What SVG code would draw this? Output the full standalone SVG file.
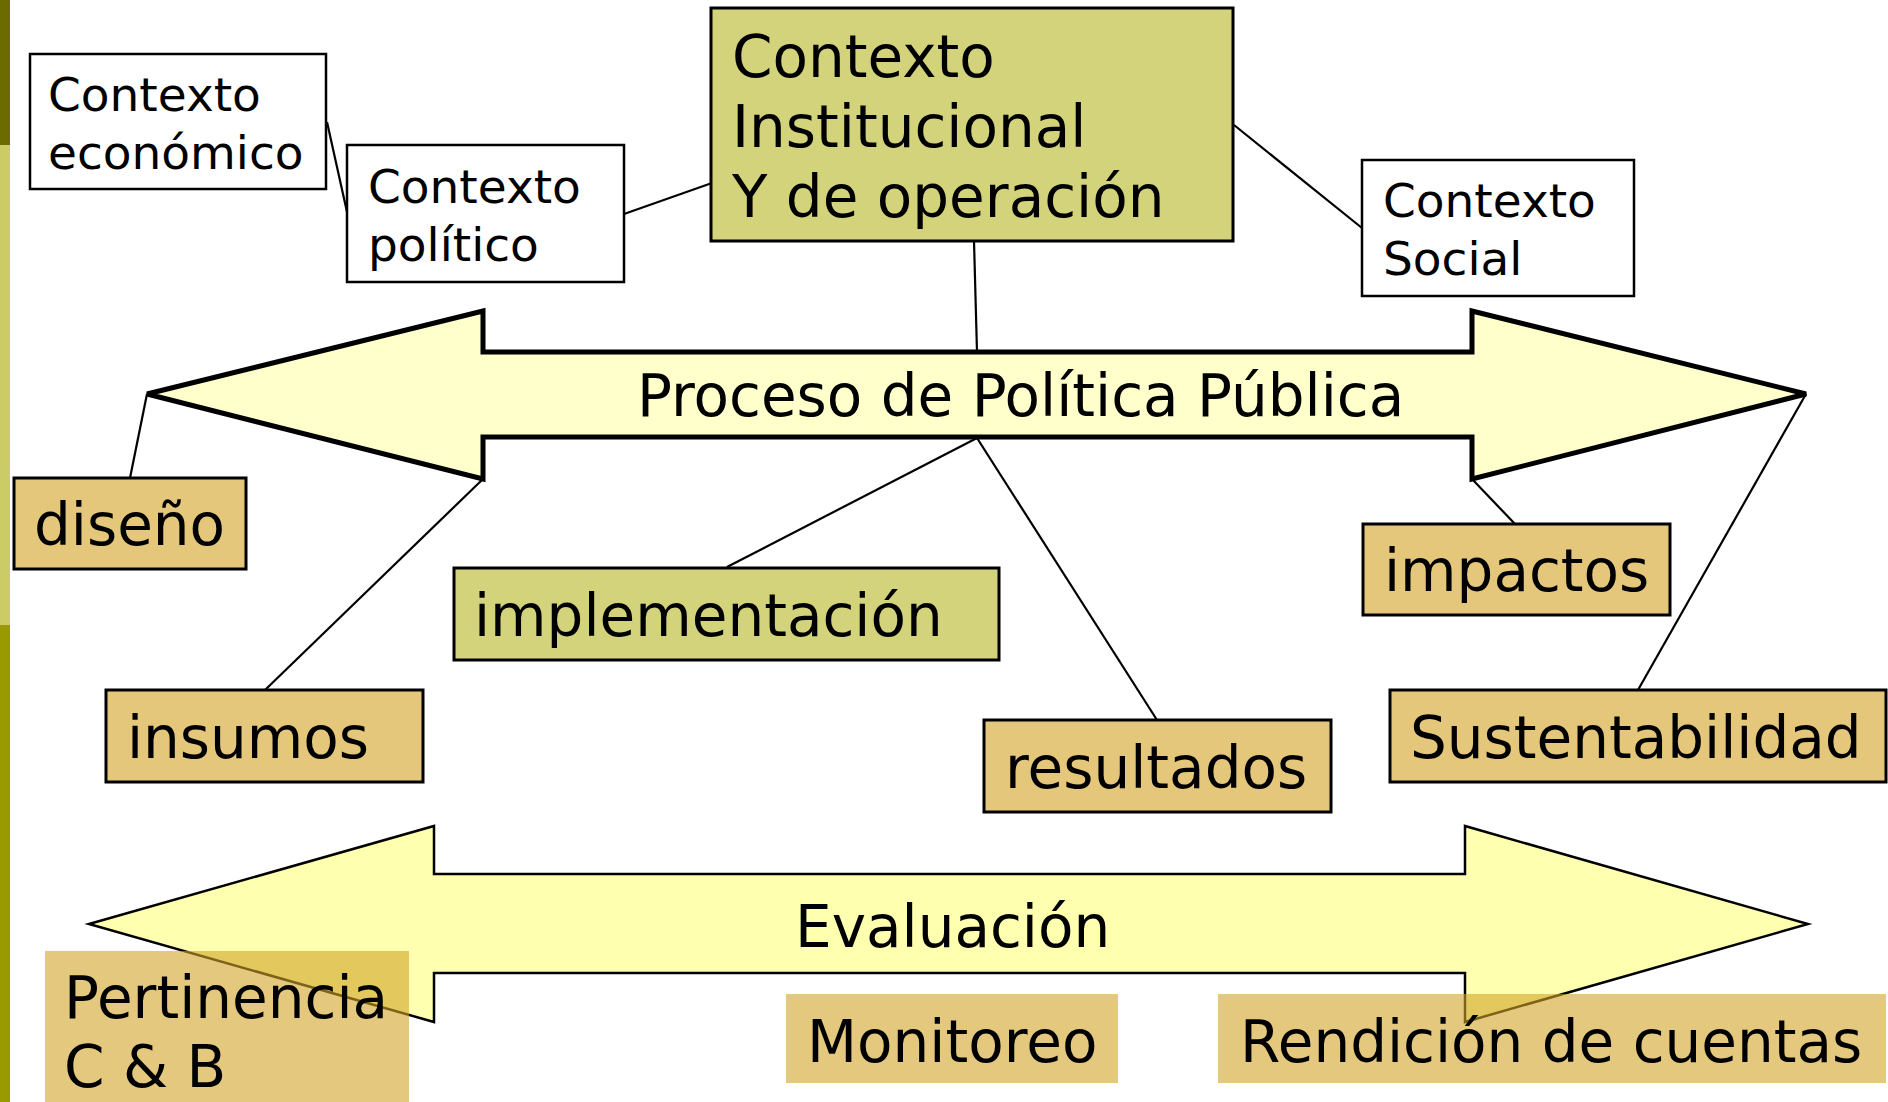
<svg xmlns="http://www.w3.org/2000/svg" width="1888" height="1102" viewBox="0 0 1888 1102">
<style>
text{font-family:"DejaVu Sans","Liberation Sans",sans-serif;fill:#000}
.s{font-size:47px}
.l{font-size:58px}
.ctx{fill:#fff;stroke:#000;stroke-width:2.5}
.olive{fill:#d3d37b;stroke:#000;stroke-width:3}
.tan{fill:#e5c77b;stroke:#000;stroke-width:3}
.soft{fill:#d0a428;fill-opacity:0.6}
.con line{stroke:#000;stroke-width:2.2}
</style>
<rect width="1888" height="1102" fill="#fff"/>
<g id="sidebar">
<rect x="0" y="0" width="10" height="145" fill="#6b6b00"/>
<rect x="0" y="145" width="10" height="480" fill="#cccc66"/>
<rect x="0" y="625" width="10" height="477" fill="#999900"/>
</g>
<g id="connectors" class="con">
<line x1="327" y1="122" x2="347" y2="212"/>
<line x1="624" y1="214" x2="712" y2="183"/>
<line x1="1234" y1="125" x2="1362" y2="228"/>
<line x1="974" y1="241" x2="977" y2="352"/>
<line x1="147" y1="394" x2="130" y2="478"/>
<line x1="483" y1="479" x2="265" y2="690"/>
<line x1="977" y1="438" x2="727" y2="567"/>
<line x1="977" y1="438" x2="1157" y2="720"/>
<line x1="1472" y1="479" x2="1515" y2="524"/>
<line x1="1806" y1="394" x2="1638" y2="690"/>
</g>
<g id="proceso">
<polygon points="147,394 483,311 483,352 1472,352 1472,311 1806,394 1472,479 1472,437 483,437 483,479" fill="#ffffcc" stroke="#000" stroke-width="5" stroke-linejoin="miter"/>
<text class="l" x="637" y="416">Proceso de Política Pública</text>
</g>
<g id="ctx-economico">
<rect class="ctx" x="30" y="54" width="296" height="135"/>
<text class="s" x="48" y="111">Contexto</text>
<text class="s" x="48" y="169">económico</text>
</g>
<g id="ctx-politico">
<rect class="ctx" x="347" y="145" width="277" height="137"/>
<text class="s" x="368" y="203">Contexto</text>
<text class="s" x="368" y="261">político</text>
</g>
<g id="ctx-institucional">
<rect class="olive" x="711" y="8" width="522" height="233"/>
<text class="l" x="732" y="77">Contexto</text>
<text class="l" x="732" y="147">Institucional</text>
<text class="l" x="732" y="217">Y de operación</text>
</g>
<g id="ctx-social">
<rect class="ctx" x="1362" y="160" width="272" height="136"/>
<text class="s" x="1383" y="217">Contexto</text>
<text class="s" x="1383" y="275">Social</text>
</g>
<g id="diseno">
<rect class="tan" x="14" y="478" width="232" height="91"/>
<text class="l" x="34" y="545">diseño</text>
</g>
<g id="insumos">
<rect class="tan" x="106" y="690" width="317" height="92"/>
<text class="l" x="127" y="758">insumos</text>
</g>
<g id="implementacion">
<rect class="olive" x="454" y="568" width="545" height="92"/>
<text class="l" x="474" y="636">implementación</text>
</g>
<g id="resultados">
<rect class="tan" x="984" y="720" width="347" height="92"/>
<text class="l" x="1005" y="788">resultados</text>
</g>
<g id="impactos">
<rect class="tan" x="1363" y="524" width="307" height="91"/>
<text class="l" x="1384" y="591">impactos</text>
</g>
<g id="sustentabilidad">
<rect class="tan" x="1390" y="690" width="496" height="92"/>
<text class="l" x="1410" y="758">Sustentabilidad</text>
</g>
<g id="evaluacion">
<polygon points="89,924 434,826 434,874 1465,874 1465,826 1808,924 1465,1022 1465,973 434,973 434,1022" fill="#ffffb0" stroke="#000" stroke-width="2.5"/>
<text class="l" x="795" y="947">Evaluación</text>
</g>
<g id="pertinencia">
<rect class="soft" x="45" y="951" width="364" height="151"/>
<text class="l" x="64" y="1018">Pertinencia</text>
<text class="l" x="64" y="1087">C &amp; B</text>
</g>
<g id="monitoreo">
<rect class="soft" x="786" y="994" width="332" height="89"/>
<text class="l" x="807" y="1062">Monitoreo</text>
</g>
<g id="rendicion">
<rect class="soft" x="1218" y="994" width="668" height="89"/>
<text class="l" x="1240" y="1062">Rendición de cuentas</text>
</g>
</svg>
